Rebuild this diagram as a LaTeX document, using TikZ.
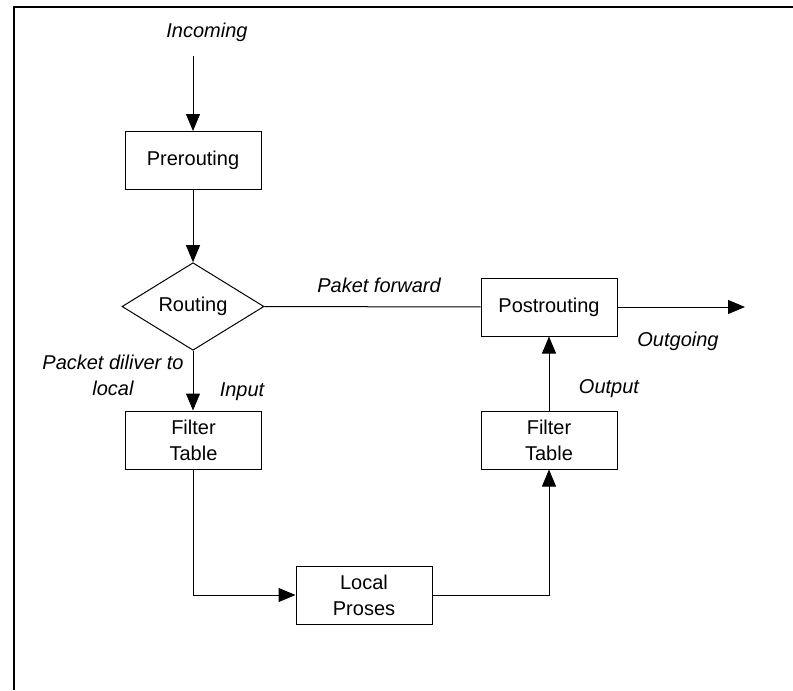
\documentclass[tikz,border=0pt]{standalone}
\usepackage{fontspec}
\setmainfont{Liberation Sans}
\usetikzlibrary{arrows.meta, shapes.geometric}

\begin{document}
\begin{tikzpicture}[>={Triangle[length=8.5pt, width=7pt]}, x=0.5pt, y=-0.5pt,
    font=\fontsize{10}{13}\selectfont,
    box/.style={draw, rectangle, minimum width=68pt, minimum height=29pt, inner sep=0pt, align=center},
    decision/.style={draw, diamond, minimum width=71pt, minimum height=37.5pt, inner sep=0pt},
    tag/.style={font=\fontsize{10}{13}\selectfont\itshape, align=center, inner sep=0pt},
    line width=0.5pt]
    \useasboundingbox (0,0) rectangle (793,691);
    \draw[line width=1pt] (14,690) -- (14,7) -- (793,7);

    \node[tag] (incoming) at (207,32) {Incoming};
    \coordinate (in) at (193,56);
    \node[box] (prerouting) at (193,160.5) {Prerouting};
    \node[decision] (routing) at (193,306.5) {Routing};
    \node[box] (postrouting) at (549,307) {Postrouting};
    \coordinate (out) at (745,307);
    \node[box] (filterin) at (193.5,440) {Filter\\Table};
    \node[box] (filterout) at (549,440) {Filter\\Table};
    \node[box] (local) at (364,595) {Local\\Proses};

    \node[tag] (forward) at (379,285) {Paket forward};
    \node[tag] (deliver) at (113,375) {Packet diliver to\\local};
    \node[tag] (input) at (242,392) {Input};
    \node[tag] (outgoing) at (678,341) {Outgoing};
    \node[tag] (output) at (609,389) {Output};

    \draw[->] (in) -- (prerouting);
    \draw[->] (prerouting) -- (routing);
    \draw (routing) -- (postrouting);
    \draw[->] (postrouting) -- (out);
    \draw[->] (routing.south) -- (filterin.north -| routing.south);
    \draw[->] (filterin.south -| routing.south) |- (local);
    \draw[->] (local) -| (filterout);
    \draw[->] (filterout) -- (postrouting);
\end{tikzpicture}
\end{document}
